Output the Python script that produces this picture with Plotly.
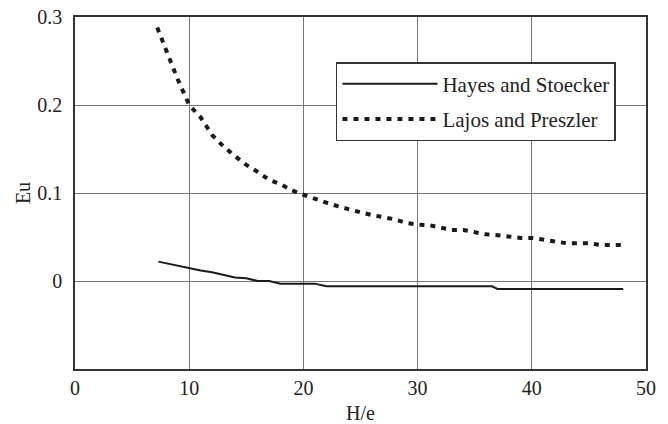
import plotly.graph_objects as go

# Data
hayes_x = [7.3, 8, 9, 10, 11, 12, 13, 14, 15, 16, 17, 18, 19, 20, 21, 22, 23, 25, 28, 31, 34, 36.5, 37, 40, 44, 48]
hayes_y = [0.022, 0.020, 0.018, 0.015, 0.012, 0.010, 0.007, 0.004, 0.003, 0.000, 0.000, -0.003, -0.003,
           -0.003, -0.003, -0.006, -0.006, -0.006, -0.006, -0.006, -0.006, -0.006, -0.009, -0.009, -0.009, -0.009]

lajos_x = [7.2, 8, 9, 10, 11, 12, 13, 14, 15, 16, 17, 18, 19, 20, 21, 22, 23, 24, 25, 26, 27, 28, 29, 30,
           31, 32, 33, 34, 35, 36, 37, 38, 39, 40, 41, 42, 43, 44, 45, 46, 47, 48]
lajos_y = [0.288, 0.262, 0.229, 0.200, 0.186, 0.166, 0.153, 0.142, 0.132, 0.124, 0.115, 0.110, 0.103, 0.098,
           0.093, 0.089, 0.085, 0.081, 0.078, 0.075, 0.073, 0.070, 0.066, 0.064, 0.0635, 0.061, 0.058, 0.058,
           0.055, 0.053, 0.052, 0.050, 0.049, 0.049, 0.047, 0.046, 0.043, 0.043, 0.043, 0.041, 0.041, 0.041]

x_ticks = [0, 10, 20, 30, 40, 50]
y_ticks = [0, 0.1, 0.2, 0.3]
y_tick_text = ["0", "0.1", "0.2", "0.3"]

FONT = "Liberation Serif"
TXT = "#222"

fig = go.Figure()
fig.add_trace(go.Scatter(x=hayes_x, y=hayes_y, mode="lines", name="Hayes and Stoecker",
                         legendgroup="a", line=dict(color="#1a1a1a", width=2)))
fig.add_trace(go.Scatter(x=lajos_x, y=lajos_y, mode="lines", name="Lajos and Preszler",
                         legendgroup="b", line=dict(color="#1a1a1a", width=4, dash="5px,6px")))

fig.update_layout(
    width=668, height=424,
    margin=dict(l=75, r=22, t=17, b=55),
    paper_bgcolor="white", plot_bgcolor="white",
    font=dict(family=FONT, size=20, color=TXT),
    legend=dict(x=0.457, y=0.872, xanchor="left", yanchor="top",
                bgcolor="white", bordercolor="#333", borderwidth=1.5,
                itemwidth=95, entrywidth=178, font=dict(size=21, family=FONT, color=TXT),
                tracegroupgap=5),
    showlegend=True,
)
fig.update_xaxes(range=[0, 50], tickvals=x_ticks, showgrid=True, gridcolor="#777", gridwidth=1,
                 showline=True, linecolor="#333", linewidth=1.5, mirror=True, zeroline=False,
                 ticks="", automargin=False,
                 title=dict(text="H/e", standoff=8, font=dict(family=FONT, size=20, color=TXT)),
                 tickfont=dict(family=FONT, size=20, color=TXT))
fig.update_yaxes(range=[-0.1, 0.3], tickvals=y_ticks, ticktext=y_tick_text, showgrid=True,
                 gridcolor="#777", gridwidth=1, showline=True, linecolor="#333", linewidth=1.5,
                 mirror=True, zeroline=False, ticks="", automargin=False, ticklabelstandoff=7,
                 title=dict(text="Eu", standoff=1, font=dict(family=FONT, size=20, color=TXT)),
                 tickfont=dict(family=FONT, size=20, color=TXT))

fig.write_html("out.html", config={"displayModeBar": False},
               post_script="document.body.style.margin='0';")
